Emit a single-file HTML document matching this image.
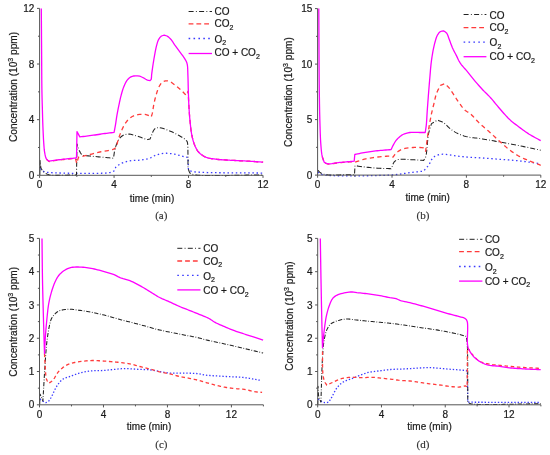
<!DOCTYPE html>
<html><head><meta charset="utf-8"><title>Concentration charts</title>
<style>
html,body{margin:0;padding:0;background:#fff;}
body{width:550px;height:455px;overflow:hidden;}
svg{display:block;font-family:"Liberation Sans",sans-serif;font-size:10px;fill:#1a1a1a;will-change:transform;}
svg text{fill:#1a1a1a;stroke:#1a1a1a;stroke-width:0.2px;}
svg text.pl{font-family:"Liberation Serif",serif;font-size:11px;fill:#333;stroke:#333;stroke-width:0.15px;}
</style></head><body>
<svg width="550" height="455" viewBox="0 0 550 455">
<rect width="550" height="455" fill="#fff"/>
<g><path d="M39.8 168.5 L42 170.5 L43.65 171.36 L45.5 172 L46.76 172.29 L48.09 172.46 L50 172.6 L50.71 172.64 L51.54 172.69 L52.49 172.73 L53.55 172.78 L54.71 172.83 L55.97 172.88 L57.32 172.92 L58.76 172.97 L60.27 173.02 L61.85 173.06 L63.5 173.11 L65.21 173.15 L66.97 173.19 L68.77 173.23 L70.61 173.26 L72.48 173.3 L74.38 173.33 L76.3 173.36 L78.23 173.38 L80.17 173.4 L82.1 173.42 L84.03 173.43 L85.94 173.44 L87.83 173.44 L89.7 173.44 L91.53 173.43 L93.32 173.42 L95.07 173.4 L96.76 173.37 L98.39 173.34 L99.96 173.3 L101.45 173.26 L102.87 173.2 L104.2 173.14 L105.43 173.07 L106.57 173 L107.6 172.91 L108.52 172.82 L109.32 172.71 L110 172.6 L112.32 171.84 L114 171 L114.8 169 L115.9 167.1 L117.09 166 L118.57 164.97 L120.21 164.03 L121.9 163.2 L123.37 162.57 L124.9 162.02 L126.49 161.54 L128.13 161.14 L129.8 160.8 L131.38 160.59 L133.01 160.49 L134.67 160.45 L136.36 160.42 L138.04 160.36 L139.7 160.2 L141.39 159.97 L143.11 159.7 L144.83 159.4 L146.52 159.05 L148.12 158.65 L149.6 158.2 L151.18 157.53 L152.6 156.76 L153.99 155.98 L155.5 155.3 L156.99 154.78 L158.55 154.29 L160.16 153.86 L161.79 153.52 L163.4 153.3 L164.97 153.21 L166.56 153.23 L168.14 153.34 L169.72 153.51 L171.3 153.7 L172.89 153.94 L174.49 154.23 L176.09 154.57 L177.66 154.93 L179.2 155.3 L181.06 155.79 L182.94 156.34 L184.68 156.84 L186.1 157.2 L188.1 157.5 L188.4 170.1 L189.85 170.82 L191.9 171.5 L192.49 171.61 L193.15 171.71 L193.9 171.81 L194.72 171.9 L195.61 171.98 L196.57 172.06 L197.59 172.13 L198.68 172.2 L199.84 172.26 L201.05 172.32 L202.31 172.38 L203.63 172.42 L205.01 172.47 L206.42 172.51 L207.89 172.55 L209.4 172.58 L210.95 172.62 L212.53 172.64 L214.15 172.67 L215.81 172.69 L217.49 172.71 L219.2 172.73 L220.93 172.75 L222.69 172.76 L224.47 172.78 L226.26 172.79 L228.07 172.8 L229.89 172.81 L231.71 172.82 L233.55 172.83 L235.38 172.83 L237.22 172.84 L239.06 172.85 L240.89 172.86 L242.71 172.87 L244.53 172.88 L246.33 172.89 L248.12 172.9 L249.89 172.92 L251.64 172.93 L253.36 172.95 L255.07 172.97 L256.74 172.99 L258.38 173.01 L259.99 173.04 L261.56 173.07 L263.1 173.1" fill="none" stroke="#3a3aff" stroke-width="1.3" stroke-dasharray="1.5 2.65" stroke-linejoin="round"/><path d="M39.8 175 L40.1 160.5 L40.28 162.16 L40.41 163.88 L40.56 165.57 L40.8 167.14 L41.2 168.5 L42.3 170.44 L43.8 172 L45.18 173.07 L46.83 173.97 L49 174.7 L49.98 174.9 L51.08 175.07 L52.3 175.19 L53.62 175.28 L55.03 175.33 L56.52 175.36 L58.08 175.37 L59.7 175.35 L61.36 175.32 L63.06 175.28 L64.78 175.23 L66.51 175.18 L68.24 175.13 L69.96 175.08 L71.66 175.04 L73.32 175.01 L74.94 174.99 L76.5 175 L77 144 L77.47 145.51 L77.93 147.04 L78.42 148.54 L79 150 L79.68 151.37 L80.44 152.69 L81.23 153.99 L82 155.3 L83.51 155.44 L85.03 155.59 L86.56 155.73 L88.1 155.88 L89.63 156.03 L91.16 156.17 L92.68 156.32 L94.19 156.46 L95.68 156.6 L97.15 156.74 L98.59 156.87 L100 157 L101.58 157.14 L103.13 157.28 L104.64 157.42 L106.13 157.55 L107.61 157.68 L109.07 157.81 L110.54 157.94 L112.01 158.07 L113.5 158.2 L113.76 156.44 L114.01 154.66 L114.26 152.88 L114.55 151.15 L114.9 149.5 L115.36 147.75 L115.86 146.08 L116.44 144.46 L117.1 142.9 L117.8 141.41 L118.57 139.94 L119.43 138.58 L120.4 137.4 L121.75 136.23 L123.25 135.28 L124.8 134.6 L126.93 134.13 L129.2 134.1 L130.76 134.31 L132.43 134.71 L134.13 135.2 L135.8 135.7 L137.47 136.22 L139.14 136.79 L140.79 137.36 L142.4 137.9 L144.36 138.61 L146.28 139.29 L147.9 139.6 L150 139 L151.2 136.3 L151.86 134.53 L152.59 132.53 L153.4 130.8 L154.38 129.29 L155.5 128.2 L158 127.6 L159.59 127.71 L161.42 128.07 L163.4 128.6 L164.66 128.99 L166.01 129.44 L167.42 129.96 L168.87 130.53 L170.35 131.15 L171.83 131.81 L173.3 132.5 L174.65 133.17 L176.1 133.92 L177.61 134.73 L179.12 135.57 L180.6 136.42 L181.99 137.25 L183.25 138.04 L184.34 138.77 L185.2 139.4 L187.1 141.4 L187.4 142.36 L187.62 143.57 L187.76 144.99 L187.85 146.57 L187.89 148.25 L187.91 149.98 L187.93 151.72 L187.95 153.41 L188 155 L188.04 156.59 L188.04 158.26 L188.02 159.97 L187.99 161.69 L187.97 163.36 L187.98 164.97 L188.02 166.47 L188.12 167.83 L188.3 169 L189.04 171.17 L189.9 173 L191.52 173.89 L193.8 174.7 L194.41 174.82 L195.1 174.92 L195.87 175.02 L196.71 175.11 L197.62 175.19 L198.6 175.26 L199.64 175.32 L200.75 175.38 L201.92 175.42 L203.14 175.46 L204.42 175.5 L205.75 175.53 L207.12 175.55 L208.55 175.57 L210.02 175.58 L211.53 175.58 L213.08 175.58 L214.67 175.58 L216.29 175.57 L217.94 175.56 L219.61 175.55 L221.32 175.53 L223.04 175.51 L224.79 175.48 L226.56 175.46 L228.33 175.43 L230.13 175.4 L231.93 175.37 L233.74 175.34 L235.55 175.31 L237.36 175.28 L239.18 175.25 L240.99 175.22 L242.79 175.19 L244.59 175.16 L246.37 175.13 L248.14 175.1 L249.89 175.08 L251.63 175.06 L253.34 175.04 L255.03 175.02 L256.69 175.01 L258.32 175 L259.91 175 L261.48 175 L263 175" fill="none" stroke="#222" stroke-width="1.05" stroke-dasharray="5 2 0.8 2" stroke-linejoin="round"/><path d="M46.4 159.2 L49.1 161.5 L50.82 161.22 L52.51 160.94 L54.25 160.67 L56.1 160.4 L57.5 160.22 L58.97 160.04 L60.5 159.86 L62.05 159.69 L63.6 159.52 L65.13 159.36 L66.6 159.2 L68.41 159.01 L70.18 158.83 L71.92 158.65 L73.65 158.48 L75.4 158.3 L76.7 163.3 L78.5 157.2 L80.15 156.81 L81.81 156.43 L83.47 156.04 L85.13 155.66 L86.77 155.27 L88.4 154.88 L90 154.5 L91.69 154.08 L93.33 153.66 L94.95 153.24 L96.58 152.83 L98.25 152.41 L100 152 L101.47 151.69 L103.08 151.4 L104.76 151.12 L106.47 150.84 L108.15 150.55 L109.75 150.25 L111.21 149.93 L112.48 149.58 L113.5 149.2 L114.96 148.41 L116 147.3 L116.57 146.13 L117 144.65 L117.37 142.98 L117.74 141.26 L118.2 139.6 L118.69 138.14 L119.21 136.65 L119.76 135.14 L120.33 133.64 L120.91 132.19 L121.5 130.8 L122.27 129.05 L123.05 127.37 L123.88 125.75 L124.8 124.2 L125.79 122.71 L126.84 121.26 L127.97 119.91 L129.2 118.7 L130.46 117.69 L131.81 116.79 L133.23 116.03 L134.7 115.4 L136.29 114.92 L137.97 114.6 L139.67 114.4 L141.3 114.3 L143.2 114.29 L145.05 114.44 L146.8 114.8 L148.32 115.41 L149.76 116.2 L151.2 117 L151.75 115.32 L152.3 113.4 L152.58 112.03 L152.85 110.45 L153.12 108.72 L153.39 106.94 L153.68 105.17 L154 103.5 L154.33 101.99 L154.67 100.5 L155.02 99.02 L155.4 97.56 L155.79 96.12 L156.2 94.7 L156.68 93.08 L157.18 91.46 L157.71 89.88 L158.27 88.37 L158.9 87 L159.83 85.28 L160.86 83.73 L162 82.5 L163.63 81.46 L165.4 80.9 L167.3 80.84 L169.3 81.3 L170.75 82 L172.27 83.01 L173.8 84.15 L175.3 85.3 L176.51 86.22 L177.72 87.19 L178.91 88.18 L180.08 89.19 L181.2 90.2 L182.48 91.43 L183.7 92.68 L184.89 93.94 L186.1 95.2 L188.1 91.2 L188.19 92.82 L188.27 94.45 L188.36 96.08 L188.44 97.71 L188.53 99.34 L188.62 100.96 L188.71 102.58 L188.8 104.19 L188.9 105.8 L189 107.36 L189.09 108.9 L189.19 110.43 L189.28 111.96 L189.39 113.48 L189.5 115.02 L189.62 116.56 L189.75 118.12 L189.9 119.7 L190.05 121.26 L190.21 122.86 L190.37 124.49 L190.55 126.14 L190.73 127.78 L190.93 129.41 L191.14 131.01 L191.37 132.57 L191.62 134.07 L191.9 135.5 L192.3 137.32 L192.72 139.07 L193.17 140.74 L193.66 142.35 L194.2 143.91 L194.8 145.4 L195.47 146.92 L196.17 148.38 L196.94 149.77 L197.81 151.08 L198.8 152.3 L199.97 153.47 L201.26 154.56 L202.66 155.56 L204.14 156.44 L205.7 157.2 L207.19 157.75 L208.75 158.17 L210.39 158.48 L212.08 158.74 L213.82 158.97 L215.6 159.2 L217.01 159.38 L218.46 159.52 L219.93 159.65 L221.43 159.75 L222.96 159.85 L224.53 159.93 L226.12 160.02 L227.74 160.1 L229.4 160.2 L230.82 160.28 L232.28 160.36 L233.8 160.44 L235.34 160.52 L236.91 160.59 L238.5 160.66 L240.09 160.74 L241.68 160.81 L243.25 160.88 L244.8 160.96 L246.31 161.04 L247.78 161.12 L249.2 161.2 L250.85 161.3 L252.45 161.41 L254.02 161.52 L255.55 161.63 L257.06 161.75 L258.56 161.86 L260.06 161.97 L261.57 162.09 L263.1 162.2" fill="none" stroke="#ff3b3b" stroke-width="1.3" stroke-dasharray="4.3 3.3" stroke-linejoin="round"/><path d="M41.3 8.4 L41.31 9.94 L41.32 11.48 L41.33 13.03 L41.34 14.57 L41.36 16.12 L41.37 17.66 L41.38 19.21 L41.39 20.75 L41.4 22.3 L41.41 23.84 L41.42 25.39 L41.43 26.93 L41.44 28.48 L41.46 30.02 L41.47 31.57 L41.48 33.11 L41.49 34.65 L41.5 36.19 L41.51 37.73 L41.52 39.27 L41.53 40.81 L41.54 42.35 L41.56 43.88 L41.57 45.41 L41.58 46.94 L41.59 48.47 L41.6 50 L41.61 51.56 L41.62 53.14 L41.63 54.73 L41.64 56.33 L41.65 57.95 L41.66 59.57 L41.67 61.19 L41.68 62.82 L41.68 64.44 L41.69 66.07 L41.7 67.69 L41.71 69.3 L41.72 70.91 L41.73 72.5 L41.74 74.08 L41.75 75.65 L41.76 77.2 L41.77 78.73 L41.78 80.24 L41.8 81.72 L41.81 83.18 L41.83 84.61 L41.84 86.01 L41.86 87.38 L41.88 88.71 L41.9 90 L41.93 91.77 L41.96 93.47 L42 95.12 L42.03 96.73 L42.07 98.28 L42.11 99.8 L42.15 101.3 L42.19 102.76 L42.23 104.22 L42.28 105.66 L42.32 107.1 L42.36 108.55 L42.4 110 L42.45 111.7 L42.49 113.38 L42.54 115.02 L42.58 116.65 L42.62 118.27 L42.67 119.88 L42.72 121.49 L42.78 123.11 L42.84 124.75 L42.9 126.4 L42.97 127.99 L43.03 129.63 L43.11 131.29 L43.18 132.97 L43.26 134.65 L43.34 136.32 L43.42 137.95 L43.51 139.54 L43.61 141.07 L43.7 142.53 L43.8 143.9 L43.95 145.88 L44.09 147.72 L44.24 149.44 L44.44 151.09 L44.7 152.7 L45.01 154.42 L45.36 156.1 L45.8 157.63 L46.4 158.9 L47.67 160.17 L49.1 161.2 L50.82 160.92 L52.51 160.64 L54.25 160.37 L56.1 160.1 L57.5 159.92 L58.97 159.74 L60.5 159.56 L62.05 159.39 L63.6 159.22 L65.13 159.06 L66.6 158.9 L68.54 158.7 L70.58 158.5 L72.52 158.32 L74.19 158.15 L75.4 158 L76.5 157.8 L77 131.6 L77.8 133 L78.75 134.83 L79.8 136.9 L81.47 136.71 L83.14 136.52 L85 136.3 L86.48 136.12 L88.09 135.91 L89.8 135.7 L91.55 135.47 L93.3 135.23 L95 135 L96.67 134.76 L98.35 134.5 L100.03 134.24 L101.7 133.98 L103.36 133.73 L105 133.5 L106.54 133.3 L108.06 133.11 L109.58 132.93 L111.08 132.75 L112.59 132.58 L114.1 132.4 L114.42 130.66 L114.75 128.95 L115.07 127.19 L115.4 125.3 L115.64 123.84 L115.87 122.29 L116.11 120.68 L116.35 119.04 L116.59 117.41 L116.84 115.82 L117.1 114.3 L117.42 112.52 L117.75 110.81 L118.09 109.13 L118.44 107.44 L118.8 105.7 L119.14 104.08 L119.48 102.42 L119.84 100.75 L120.2 99.07 L120.59 97.42 L121 95.8 L121.4 94.28 L121.82 92.77 L122.25 91.27 L122.7 89.8 L123.18 88.37 L123.7 87 L124.43 85.2 L125.21 83.46 L126.05 81.83 L127 80.4 L128.19 79 L129.5 77.82 L130.9 76.9 L132.31 76.32 L133.8 75.98 L135.3 75.8 L137.51 75.82 L139.7 76.2 L141.21 76.74 L142.69 77.46 L144.1 78.2 L145.79 79.23 L147.4 80.1 L150.1 80.6 L151.2 79.3 L151.48 77.45 L151.6 75 L151.76 73.64 L151.96 72.09 L152.19 70.41 L152.44 68.66 L152.69 66.88 L152.95 65.14 L153.2 63.5 L153.47 61.79 L153.75 60.1 L154.03 58.42 L154.32 56.78 L154.61 55.17 L154.9 53.6 L155.2 51.99 L155.5 50.41 L155.8 48.88 L156.13 47.38 L156.5 45.9 L156.97 44.14 L157.46 42.39 L158.03 40.75 L158.7 39.3 L160 37.39 L161.5 36 L164.2 35.2 L167 36 L168.66 37.13 L170.3 38.7 L171.18 39.74 L172.06 40.94 L172.94 42.23 L173.82 43.54 L174.7 44.8 L175.8 46.3 L176.9 47.8 L178 49.3 L179.1 50.8 L180 52.03 L180.92 53.28 L181.83 54.52 L182.7 55.73 L183.5 56.9 L184.52 58.43 L185.44 59.89 L186.2 61.3 L186.85 62.84 L187.3 64.6 L187.5 65.97 L187.63 67.56 L187.72 69.31 L187.78 71.17 L187.83 73.09 L187.9 75 L187.95 76.39 L188 77.82 L188.04 79.29 L188.08 80.78 L188.11 82.3 L188.14 83.84 L188.18 85.39 L188.21 86.93 L188.25 88.47 L188.3 90 L188.35 91.57 L188.4 93.15 L188.45 94.74 L188.5 96.34 L188.56 97.94 L188.62 99.53 L188.68 101.12 L188.75 102.7 L188.82 104.26 L188.9 105.8 L188.99 107.38 L189.08 108.93 L189.17 110.47 L189.27 111.99 L189.37 113.51 L189.49 115.04 L189.61 116.57 L189.75 118.12 L189.9 119.7 L190.05 121.26 L190.21 122.86 L190.37 124.49 L190.55 126.14 L190.73 127.78 L190.93 129.41 L191.14 131.01 L191.37 132.57 L191.62 134.07 L191.9 135.5 L192.3 137.32 L192.72 139.07 L193.17 140.74 L193.66 142.35 L194.2 143.91 L194.8 145.4 L195.47 146.92 L196.17 148.38 L196.94 149.77 L197.81 151.08 L198.8 152.3 L199.97 153.47 L201.26 154.56 L202.66 155.56 L204.14 156.44 L205.7 157.2 L207.19 157.75 L208.75 158.17 L210.39 158.48 L212.08 158.74 L213.82 158.97 L215.6 159.2 L217.01 159.38 L218.46 159.52 L219.93 159.65 L221.43 159.75 L222.96 159.85 L224.53 159.93 L226.12 160.02 L227.74 160.1 L229.4 160.2 L230.82 160.28 L232.28 160.36 L233.8 160.44 L235.34 160.52 L236.91 160.59 L238.5 160.66 L240.09 160.74 L241.68 160.81 L243.25 160.88 L244.8 160.96 L246.31 161.04 L247.78 161.12 L249.2 161.2 L250.85 161.3 L252.45 161.41 L254.02 161.52 L255.55 161.63 L257.06 161.75 L258.56 161.86 L260.06 161.97 L261.57 162.09 L263.1 162.2" fill="none" stroke="#ff00ff" stroke-width="1.3" stroke-linejoin="round"/><path d="M39.6 8.4 V175.3 H263" fill="none" stroke="#555" stroke-width="1"/><path d="M39.6 175.3 v2.6 M114.07 175.3 v2.6 M188.53 175.3 v2.6 M263 175.3 v2.6 M76.83 175.3 v1.6 M151.3 175.3 v1.6 M225.77 175.3 v1.6 M39.6 175.3 h-2.6 M39.6 119.67 h-2.6 M39.6 64.03 h-2.6 M39.6 8.4 h-2.6 M39.6 147.48 h-1.6 M39.6 91.85 h-1.6 M39.6 36.22 h-1.6" fill="none" stroke="#555" stroke-width="1"/><text x="39.6" y="188" text-anchor="middle">0</text><text x="114.07" y="188" text-anchor="middle">4</text><text x="188.53" y="188" text-anchor="middle">8</text><text x="263" y="188" text-anchor="middle">12</text><text x="34.4" y="178.9" text-anchor="end">0</text><text x="34.4" y="123.27" text-anchor="end">4</text><text x="34.4" y="67.63" text-anchor="end">8</text><text x="34.4" y="12" text-anchor="end">12</text><text transform="translate(16.7 142) rotate(-90)" x="0" y="0" textLength="110.1" lengthAdjust="spacingAndGlyphs">Concentration (10<tspan font-size="7" dy="-4.2">3</tspan><tspan dy="4.2"> ppm)</tspan></text><text x="129.8" y="201.5">time (min)</text><text x="161.3" y="218.8" text-anchor="middle" class="pl">(a)</text><path d="M188.6 11.5 H212" fill="none" stroke="#222" stroke-width="1" stroke-dasharray="5 2.3 0.9 2.3"/><text x="214.5" y="15">CO</text><path d="M188.6 23.9 H212" fill="none" stroke="#ff3b3b" stroke-width="1.3" stroke-dasharray="4.8 3"/><text x="214.5" y="27.3">CO<tspan font-size="7" dy="2.6">2</tspan></text><path d="M188.6 38.5 H212" fill="none" stroke="#3a3aff" stroke-width="1.3" stroke-dasharray="1.6 3.3"/><text x="214.5" y="42.5">O<tspan font-size="7" dy="2.6">2</tspan></text><path d="M188.6 53.5 H212" fill="none" stroke="#ff00ff" stroke-width="1.3"/><text x="214.5" y="56.4">CO + CO<tspan font-size="7" dy="2.6">2</tspan></text></g>
<g><path d="M317.8 172 L318.98 172.87 L320.16 173.74 L322 174.5 L322.65 174.66 L323.4 174.81 L324.26 174.95 L325.22 175.07 L326.28 175.19 L327.42 175.3 L328.65 175.4 L329.96 175.49 L331.35 175.57 L332.81 175.64 L334.33 175.7 L335.91 175.76 L337.55 175.81 L339.24 175.85 L340.98 175.88 L342.76 175.91 L344.58 175.93 L346.43 175.94 L348.31 175.95 L350.21 175.96 L352.13 175.95 L354.06 175.94 L356 175.93 L357.95 175.92 L359.89 175.89 L361.83 175.87 L363.76 175.84 L365.67 175.81 L367.56 175.77 L369.43 175.74 L371.26 175.7 L373.07 175.65 L374.83 175.61 L376.55 175.56 L378.22 175.52 L379.84 175.47 L381.39 175.42 L382.89 175.37 L384.32 175.32 L385.67 175.27 L386.95 175.23 L388.14 175.18 L389.25 175.13 L390.26 175.09 L391.18 175.04 L392 175 L394.07 174.86 L395.69 174.69 L397.06 174.51 L398.39 174.31 L399.9 174.1 L401.47 173.89 L403.06 173.66 L404.68 173.42 L406.34 173.18 L408.04 172.94 L409.8 172.7 L411.23 172.52 L412.71 172.34 L414.23 172.16 L415.78 171.99 L417.34 171.81 L418.91 171.63 L420.49 171.45 L422.05 171.28 L423.6 171.1 L424.61 169.94 L425.63 168.8 L426.64 167.65 L427.63 166.46 L428.6 165.2 L429.41 163.9 L430.15 162.46 L430.87 160.98 L431.63 159.55 L432.49 158.26 L433.5 157.2 L434.87 156.27 L436.42 155.54 L438.07 154.98 L439.75 154.58 L441.4 154.3 L442.95 154.2 L444.5 154.27 L446.07 154.45 L447.66 154.69 L449.3 154.9 L450.89 155.09 L452.52 155.33 L454.18 155.58 L455.86 155.84 L457.54 156.09 L459.2 156.3 L460.84 156.48 L462.48 156.65 L464.12 156.8 L465.77 156.94 L467.43 157.07 L469.1 157.2 L470.58 157.3 L472.03 157.38 L473.48 157.46 L474.96 157.53 L476.49 157.61 L478.1 157.69 L479.8 157.8 L481.13 157.89 L482.51 157.99 L483.96 158.09 L485.45 158.2 L486.98 158.31 L488.54 158.43 L490.12 158.56 L491.71 158.68 L493.31 158.8 L494.91 158.93 L496.5 159.06 L498.06 159.18 L499.6 159.3 L501.12 159.42 L502.63 159.53 L504.13 159.64 L505.64 159.75 L507.15 159.86 L508.65 159.97 L510.16 160.08 L511.67 160.2 L513.18 160.33 L514.7 160.46 L516.23 160.59 L517.76 160.74 L519.3 160.9 L520.8 161.06 L522.31 161.24 L523.83 161.42 L525.35 161.62 L526.88 161.81 L528.41 162.02 L529.95 162.23 L531.48 162.44 L533.02 162.65 L534.56 162.87 L536.1 163.08 L537.64 163.29 L539.17 163.5 L540.7 163.7" fill="none" stroke="#3a3aff" stroke-width="1.3" stroke-dasharray="1.5 2.65" stroke-linejoin="round"/><path d="M317.8 170.5 L318.5 170.8 L320 172.5 L322.5 173.8 L323.99 174.32 L326 174.7 L326.85 174.79 L327.84 174.86 L328.96 174.91 L330.19 174.94 L331.53 174.97 L332.96 174.98 L334.48 174.97 L336.06 174.96 L337.69 174.94 L339.37 174.92 L341.09 174.89 L342.82 174.86 L344.56 174.83 L346.3 174.8 L348.02 174.77 L349.71 174.74 L351.36 174.72 L352.96 174.7 L354.5 174.7 L355 165.6 L356.8 165.88 L358.55 166.15 L360.39 166.43 L362.4 166.7 L363.75 166.87 L365.19 167.03 L366.69 167.21 L368.25 167.37 L369.85 167.54 L371.47 167.7 L373.1 167.85 L374.71 167.98 L376.3 168.1 L377.92 168.2 L379.56 168.29 L381.2 168.36 L382.84 168.43 L384.5 168.48 L386.15 168.53 L387.8 168.58 L389.45 168.64 L391.1 168.7 L392 167 L392.54 165.51 L393.15 163.74 L394 162.2 L395.05 161.12 L396.32 160.25 L397.9 159.6 L399.23 159.33 L400.77 159.21 L402.47 159.21 L404.27 159.28 L406.13 159.4 L407.99 159.52 L409.8 159.6 L411.29 159.65 L412.8 159.72 L414.33 159.81 L415.86 159.9 L417.41 160 L418.96 160.1 L420.51 160.21 L422.06 160.31 L423.6 160.4 L424.63 159.02 L425.6 157.2 L425.88 156.25 L426.13 155.08 L426.36 153.73 L426.56 152.21 L426.75 150.57 L426.93 148.83 L427.09 147.02 L427.26 145.17 L427.42 143.3 L427.58 141.46 L427.75 139.66 L427.94 137.93 L428.14 136.31 L428.36 134.82 L428.6 133.5 L429.04 131.59 L429.51 129.87 L430 128.27 L430.51 126.73 L431.01 125.2 L431.5 123.6 L437.5 120.1 L438.97 120.66 L440.44 121.19 L441.91 121.79 L443.4 122.6 L444.5 123.39 L445.61 124.35 L446.73 125.41 L447.85 126.53 L448.99 127.63 L450.14 128.67 L451.3 129.6 L452.57 130.49 L453.84 131.33 L455.13 132.12 L456.45 132.86 L457.8 133.55 L459.2 134.2 L460.75 134.83 L462.36 135.41 L464.02 135.93 L465.7 136.4 L467.4 136.82 L469.1 137.2 L470.57 137.47 L472.02 137.67 L473.48 137.83 L474.96 137.96 L476.49 138.1 L478.1 138.27 L479.8 138.5 L481.13 138.7 L482.52 138.93 L483.96 139.17 L485.45 139.42 L486.98 139.69 L488.54 139.97 L490.12 140.26 L491.72 140.55 L493.32 140.84 L494.91 141.14 L496.5 141.43 L498.06 141.72 L499.6 142 L501.12 142.28 L502.63 142.55 L504.14 142.83 L505.64 143.1 L507.15 143.38 L508.65 143.66 L510.16 143.94 L511.67 144.22 L513.18 144.51 L514.7 144.8 L516.23 145.1 L517.76 145.4 L519.3 145.7 L520.8 146 L522.31 146.31 L523.83 146.62 L525.35 146.94 L526.88 147.26 L528.41 147.58 L529.95 147.91 L531.48 148.24 L533.02 148.57 L534.56 148.9 L536.1 149.22 L537.64 149.55 L539.17 149.88 L540.7 150.2" fill="none" stroke="#222" stroke-width="1.05" stroke-dasharray="5 2 0.8 2" stroke-linejoin="round"/><path d="M322.2 156.5 L324.3 162.6 L325.92 163.4 L327.8 164 L328.99 164.06 L330.34 163.98 L331.82 163.79 L333.4 163.54 L335.04 163.26 L336.72 163 L338.4 162.8 L339.85 162.66 L341.36 162.53 L342.91 162.4 L344.49 162.27 L346.1 162.14 L347.73 162.01 L349.36 161.88 L350.99 161.76 L352.61 161.63 L354.2 161.5 L355 162.2 L356.55 161.69 L358.09 161.16 L359.62 160.63 L361.17 160.12 L362.76 159.63 L364.4 159.2 L365.81 158.88 L367.24 158.58 L368.7 158.3 L370.19 158.04 L371.7 157.81 L373.22 157.59 L374.76 157.39 L376.3 157.2 L377.84 157.02 L379.49 156.84 L381.2 156.66 L382.93 156.5 L384.62 156.37 L386.23 156.27 L387.71 156.22 L389.02 156.22 L390.1 156.3 L391.69 156.7 L393 157.2 L393.9 155.88 L394.8 154.56 L395.9 153.3 L397.18 152.18 L398.64 151.09 L400.24 150.1 L401.9 149.3 L403.38 148.8 L404.94 148.45 L406.56 148.19 L408.19 147.98 L409.8 147.8 L411.39 147.64 L413.01 147.52 L414.62 147.44 L416.19 147.4 L417.7 147.4 L419.73 147.48 L421.67 147.64 L423.6 147.8 L425.6 151.3 L425.81 149.74 L426.03 148.17 L426.24 146.59 L426.45 145 L426.65 143.41 L426.86 141.82 L427.07 140.24 L427.29 138.66 L427.5 137.1 L427.71 135.55 L427.93 134.02 L428.15 132.52 L428.37 131.04 L428.6 129.6 L428.88 127.89 L429.16 126.18 L429.45 124.49 L429.74 122.83 L430.04 121.19 L430.33 119.59 L430.63 118.04 L430.92 116.53 L431.21 115.08 L431.5 113.7 L431.92 111.81 L432.32 110.09 L432.73 108.45 L433.15 106.78 L433.6 105 L433.93 103.59 L434.27 102.11 L434.61 100.59 L434.96 99.04 L435.32 97.5 L435.72 96 L436.14 94.56 L436.6 93.2 L437.3 91.49 L438.07 89.9 L438.88 88.37 L439.7 86.85 L440.5 85.3 L444.5 83.7 L445.84 84.8 L447.18 85.9 L448.5 87.2 L449.49 88.4 L450.46 89.75 L451.42 91.2 L452.4 92.7 L453.4 94.2 L454.22 95.42 L455.04 96.69 L455.87 97.99 L456.72 99.3 L457.57 100.6 L458.43 101.88 L459.3 103.1 L460.27 104.44 L461.27 105.79 L462.27 107.11 L463.28 108.37 L464.29 109.51 L465.3 110.5 L466.79 111.54 L468.28 112.33 L469.9 113.4 L470.86 114.23 L471.89 115.22 L472.96 116.31 L474.07 117.49 L475.21 118.72 L476.36 119.97 L477.52 121.2 L478.67 122.39 L479.8 123.5 L481.02 124.63 L482.25 125.74 L483.49 126.82 L484.74 127.9 L485.98 128.96 L487.22 130.03 L488.46 131.1 L489.7 132.2 L490.95 133.33 L492.19 134.47 L493.44 135.63 L494.68 136.79 L495.92 137.94 L497.16 139.08 L498.38 140.2 L499.6 141.3 L500.88 142.45 L502.13 143.58 L503.37 144.69 L504.61 145.79 L505.87 146.87 L507.16 147.94 L508.5 149 L509.75 149.96 L510.99 150.92 L512.24 151.86 L513.53 152.78 L514.85 153.7 L516.25 154.61 L517.72 155.51 L519.3 156.4 L520.49 157.02 L521.75 157.64 L523.07 158.25 L524.43 158.85 L525.84 159.45 L527.28 160.04 L528.75 160.63 L530.25 161.21 L531.75 161.79 L533.27 162.37 L534.78 162.95 L536.29 163.54 L537.78 164.12 L539.26 164.71 L540.7 165.3" fill="none" stroke="#ff3b3b" stroke-width="1.3" stroke-dasharray="4.3 3.3" stroke-linejoin="round"/><path d="M318.8 8.6 L318.81 10.11 L318.82 11.64 L318.83 13.18 L318.84 14.72 L318.84 16.28 L318.85 17.85 L318.86 19.42 L318.87 21.01 L318.88 22.6 L318.88 24.2 L318.89 25.8 L318.9 27.41 L318.91 29.02 L318.92 30.63 L318.92 32.25 L318.93 33.87 L318.94 35.49 L318.95 37.12 L318.95 38.74 L318.96 40.36 L318.97 41.98 L318.98 43.6 L318.98 45.21 L318.99 46.83 L319 48.43 L319.01 50.04 L319.01 51.63 L319.02 53.22 L319.03 54.81 L319.04 56.38 L319.05 57.95 L319.06 59.51 L319.06 61.06 L319.07 62.59 L319.08 64.12 L319.09 65.63 L319.1 67.13 L319.11 68.62 L319.12 70.09 L319.13 71.55 L319.14 72.99 L319.15 74.42 L319.16 75.83 L319.17 77.22 L319.18 78.59 L319.2 79.95 L319.21 81.28 L319.22 82.59 L319.23 83.89 L319.25 85.16 L319.26 86.4 L319.27 87.63 L319.29 88.83 L319.3 90 L319.32 91.85 L319.35 93.64 L319.37 95.39 L319.39 97.1 L319.42 98.76 L319.44 100.39 L319.46 101.98 L319.49 103.53 L319.51 105.06 L319.54 106.56 L319.57 108.03 L319.59 109.48 L319.62 110.91 L319.65 112.33 L319.68 113.73 L319.72 115.12 L319.75 116.5 L319.78 117.87 L319.82 119.25 L319.86 120.62 L319.9 122 L319.95 123.71 L320 125.4 L320.05 127.08 L320.1 128.74 L320.15 130.39 L320.2 132.01 L320.26 133.6 L320.32 135.17 L320.38 136.71 L320.45 138.22 L320.53 139.7 L320.61 141.14 L320.7 142.54 L320.8 143.9 L320.93 145.64 L321.07 147.33 L321.2 148.97 L321.35 150.55 L321.52 152.06 L321.71 153.52 L321.94 154.9 L322.2 156.2 L322.66 157.91 L323.19 159.44 L323.75 160.9 L324.3 162.4 L325.92 163.2 L327.8 163.8 L328.99 163.86 L330.34 163.78 L331.82 163.6 L333.4 163.35 L335.04 163.07 L336.72 162.81 L338.4 162.6 L339.85 162.46 L341.36 162.32 L342.91 162.17 L344.49 162.03 L346.1 161.9 L347.73 161.76 L349.36 161.62 L350.99 161.48 L352.61 161.34 L354.2 161.2 L354.8 154.5 L356.3 154.18 L357.79 153.85 L359.29 153.53 L360.81 153.21 L362.4 152.9 L363.97 152.61 L365.6 152.33 L367.26 152.05 L368.95 151.78 L370.63 151.53 L372.3 151.3 L373.95 151.1 L375.62 150.91 L377.28 150.75 L378.94 150.59 L380.58 150.44 L382.2 150.3 L384.01 150.14 L385.79 150 L387.56 149.87 L389.33 149.74 L391.1 149.6 L391.74 148.21 L392.39 146.82 L393.1 145.4 L394 143.72 L394.99 142 L396.1 140.4 L397.34 138.97 L398.68 137.65 L400 136.5 L401.41 135.41 L403 134.5 L404.45 133.89 L406.12 133.33 L407.93 132.85 L409.8 132.5 L411.37 132.35 L413.06 132.31 L414.8 132.34 L416.54 132.41 L418.19 132.47 L419.7 132.5 L421.65 132.5 L423.43 132.5 L425.2 132.5 L425.43 131.04 L425.66 129.63 L425.88 128.19 L426.1 126.67 L426.3 125 L426.42 123.73 L426.53 122.42 L426.63 121.05 L426.72 119.63 L426.81 118.16 L426.89 116.63 L426.98 115.05 L427.07 113.42 L427.18 111.74 L427.3 110 L427.39 108.7 L427.49 107.34 L427.6 105.92 L427.71 104.45 L427.82 102.93 L427.94 101.37 L428.06 99.79 L428.18 98.18 L428.3 96.55 L428.43 94.9 L428.56 93.26 L428.69 91.61 L428.82 89.97 L428.95 88.35 L429.08 86.75 L429.2 85.18 L429.33 83.64 L429.46 82.14 L429.58 80.69 L429.7 79.3 L429.84 77.64 L429.98 76.01 L430.11 74.41 L430.24 72.84 L430.36 71.3 L430.49 69.79 L430.62 68.29 L430.76 66.82 L430.91 65.35 L431.06 63.9 L431.23 62.46 L431.41 61.03 L431.6 59.6 L431.85 57.91 L432.11 56.23 L432.38 54.55 L432.66 52.88 L432.96 51.24 L433.26 49.63 L433.58 48.06 L433.91 46.54 L434.25 45.09 L434.6 43.7 L435.05 42 L435.5 40.35 L435.97 38.77 L436.47 37.31 L437.01 35.97 L437.6 34.8 L438.96 32.83 L440.5 31.5 L441.97 31.08 L443.5 30.9 L445.05 31.76 L446.5 32.9 L447.34 34.28 L448.06 36.02 L448.72 37.93 L449.4 39.8 L449.99 41.35 L450.56 42.93 L451.14 44.52 L451.74 46.12 L452.4 47.7 L453.14 49.29 L453.93 50.88 L454.76 52.46 L455.59 54.03 L456.4 55.6 L457.15 57.13 L457.86 58.66 L458.59 60.19 L459.38 61.7 L460.3 63.2 L461.14 64.38 L462.06 65.54 L463.05 66.69 L464.07 67.84 L465.12 69.01 L466.17 70.19 L467.2 71.4 L468.17 72.59 L469.16 73.82 L470.16 75.07 L471.16 76.33 L472.17 77.6 L473.18 78.85 L474.19 80.09 L475.2 81.3 L476.32 82.62 L477.45 83.93 L478.59 85.23 L479.73 86.51 L480.86 87.77 L481.99 89 L483.1 90.2 L484.25 91.39 L485.39 92.5 L486.52 93.59 L487.65 94.69 L488.81 95.84 L490 97.1 L491.01 98.23 L492.05 99.43 L493.1 100.68 L494.17 101.98 L495.25 103.29 L496.33 104.62 L497.42 105.94 L498.51 107.24 L499.6 108.5 L500.67 109.73 L501.74 110.98 L502.81 112.22 L503.89 113.46 L504.97 114.69 L506.06 115.9 L507.16 117.07 L508.27 118.21 L509.4 119.3 L510.6 120.39 L511.82 121.44 L513.05 122.45 L514.29 123.43 L515.54 124.38 L516.79 125.33 L518.05 126.26 L519.3 127.2 L520.52 128.12 L521.73 129.02 L522.95 129.91 L524.17 130.8 L525.4 131.67 L526.64 132.53 L527.91 133.37 L529.2 134.2 L530.58 135.04 L531.99 135.86 L533.42 136.67 L534.87 137.46 L536.33 138.24 L537.8 139.02 L539.25 139.81 L540.7 140.6" fill="none" stroke="#ff00ff" stroke-width="1.3" stroke-linejoin="round"/><path d="M317.6 8.6 V175.1 H540.8" fill="none" stroke="#555" stroke-width="1"/><path d="M317.6 175.1 v2.6 M392 175.1 v2.6 M466.4 175.1 v2.6 M540.8 175.1 v2.6 M354.8 175.1 v1.6 M429.2 175.1 v1.6 M503.6 175.1 v1.6 M317.6 175.1 h-2.6 M317.6 119.6 h-2.6 M317.6 64.1 h-2.6 M317.6 8.6 h-2.6 M317.6 147.35 h-1.6 M317.6 91.85 h-1.6 M317.6 36.35 h-1.6" fill="none" stroke="#555" stroke-width="1"/><text x="317.6" y="187.8" text-anchor="middle">0</text><text x="392" y="187.8" text-anchor="middle">4</text><text x="466.4" y="187.8" text-anchor="middle">8</text><text x="540.8" y="187.8" text-anchor="middle">12</text><text x="312.4" y="178.7" text-anchor="end">0</text><text x="312.4" y="123.2" text-anchor="end">5</text><text x="312.4" y="67.7" text-anchor="end">10</text><text x="312.4" y="12.2" text-anchor="end">15</text><text transform="translate(292.2 147.1) rotate(-90)" x="0" y="0" textLength="109.9" lengthAdjust="spacingAndGlyphs">Concentration (10<tspan font-size="7" dy="-4.2">3</tspan><tspan dy="4.2"> ppm)</tspan></text><text x="405.5" y="201.3">time (min)</text><text x="423" y="218.8" text-anchor="middle" class="pl">(b)</text><path d="M463.6 14.5 H486.4" fill="none" stroke="#222" stroke-width="1" stroke-dasharray="5 2.3 0.9 2.3"/><text x="489.6" y="18.5">CO</text><path d="M463.6 27.6 H486.4" fill="none" stroke="#ff3b3b" stroke-width="1.3" stroke-dasharray="4.8 3"/><text x="489.6" y="31.3">CO<tspan font-size="7" dy="2.6">2</tspan></text><path d="M463.6 42.2 H486.4" fill="none" stroke="#3a3aff" stroke-width="1.3" stroke-dasharray="1.6 3.3"/><text x="489.6" y="46.4">O<tspan font-size="7" dy="2.6">2</tspan></text><path d="M463.6 56.7 H486.4" fill="none" stroke="#ff00ff" stroke-width="1.3"/><text x="489.6" y="60.4">CO + CO<tspan font-size="7" dy="2.6">2</tspan></text></g>
<g><path d="M39.9 399.1 L41.39 400.12 L42.9 401.1 L44.39 401.92 L45.9 402.7 L47.38 401.96 L48.8 401 L49.85 399.66 L50.8 397.98 L51.8 396.1 L52.45 394.85 L53.11 393.46 L53.79 391.98 L54.49 390.46 L55.23 388.96 L55.99 387.52 L56.8 386.2 L57.68 384.89 L58.58 383.61 L59.52 382.39 L60.51 381.24 L61.57 380.2 L62.7 379.3 L64.14 378.47 L65.7 377.84 L67.33 377.32 L68.98 376.84 L70.6 376.3 L72.15 375.7 L73.67 375.09 L75.21 374.5 L76.8 373.93 L78.5 373.4 L79.85 373.03 L81.27 372.68 L82.73 372.34 L84.22 372.01 L85.75 371.72 L87.29 371.45 L88.85 371.21 L90.4 371 L91.9 370.85 L93.43 370.74 L95 370.67 L96.58 370.63 L98.16 370.6 L99.73 370.57 L101.27 370.54 L102.76 370.48 L104.2 370.4 L105.94 370.26 L107.61 370.09 L109.22 369.91 L110.83 369.73 L112.44 369.56 L114.1 369.4 L115.61 369.26 L117.13 369.11 L118.65 368.97 L120.18 368.83 L121.75 368.72 L123.35 368.64 L125 368.6 L126.56 368.61 L128.19 368.66 L129.88 368.74 L131.58 368.85 L133.3 368.97 L135 369.09 L136.67 369.21 L138.27 369.32 L139.8 369.4 L141.57 369.47 L143.25 369.5 L144.88 369.53 L146.48 369.58 L148.08 369.66 L149.7 369.8 L151.35 370.01 L153.01 370.28 L154.66 370.58 L156.31 370.9 L157.95 371.21 L159.6 371.5 L161.19 371.77 L162.74 372.06 L164.28 372.33 L165.88 372.59 L167.57 372.82 L169.4 373 L170.71 373.09 L172.13 373.15 L173.63 373.18 L175.2 373.2 L176.82 373.21 L178.46 373.2 L180.12 373.19 L181.76 373.17 L183.38 373.16 L184.95 373.15 L186.46 373.15 L187.88 373.17 L189.2 373.2 L191.08 373.27 L192.86 373.33 L194.54 373.41 L196.13 373.5 L197.65 373.63 L199.1 373.8 L200.99 374.16 L202.7 374.6 L204.8 375 L205.93 375.14 L207.18 375.28 L208.55 375.4 L210.01 375.52 L211.54 375.62 L213.14 375.73 L214.77 375.83 L216.44 375.92 L218.12 376.02 L219.79 376.11 L221.44 376.21 L223.05 376.3 L224.6 376.4 L226.12 376.49 L227.66 376.58 L229.19 376.65 L230.74 376.72 L232.28 376.79 L233.82 376.86 L235.36 376.93 L236.89 377.01 L238.4 377.1 L239.91 377.2 L241.39 377.31 L242.86 377.45 L244.3 377.6 L245.96 377.81 L247.6 378.04 L249.2 378.3 L250.79 378.57 L252.36 378.85 L253.93 379.15 L255.49 379.44 L257.05 379.74 L258.62 380.02 L260.2 380.3" fill="none" stroke="#3a3aff" stroke-width="1.3" stroke-dasharray="1.4 1.9" stroke-linejoin="round"/><path d="M39.7 404.5 L39.9 394.1 L41 396 L41.62 397.48 L42.26 399.24 L42.9 401 L42.99 399.47 L43.08 397.93 L43.17 396.38 L43.26 394.83 L43.35 393.27 L43.44 391.71 L43.53 390.15 L43.61 388.59 L43.7 387.03 L43.79 385.47 L43.88 383.92 L43.97 382.37 L44.06 380.82 L44.15 379.29 L44.24 377.76 L44.33 376.24 L44.42 374.73 L44.52 373.23 L44.61 371.75 L44.71 370.28 L44.8 368.83 L44.9 367.4 L45.01 365.79 L45.11 364.19 L45.22 362.6 L45.32 361.01 L45.42 359.44 L45.52 357.88 L45.63 356.33 L45.73 354.79 L45.84 353.27 L45.95 351.76 L46.07 350.27 L46.19 348.8 L46.31 347.34 L46.45 345.9 L46.59 344.48 L46.74 343.08 L46.9 341.7 L47.12 339.93 L47.35 338.15 L47.59 336.37 L47.85 334.61 L48.11 332.89 L48.38 331.21 L48.66 329.59 L48.94 328.05 L49.22 326.59 L49.51 325.24 L49.8 324 L50.25 322.22 L50.69 320.69 L51.19 319.3 L51.8 318 L52.68 316.57 L53.69 315.29 L54.8 314.1 L55.94 312.98 L57.18 311.96 L58.7 311.1 L60.06 310.59 L61.62 310.15 L63.33 309.79 L65.11 309.51 L66.89 309.32 L68.6 309.2 L70.24 309.19 L71.86 309.29 L73.49 309.48 L75.13 309.71 L76.8 309.96 L78.5 310.2 L79.93 310.39 L81.38 310.6 L82.85 310.81 L84.33 311.05 L85.83 311.29 L87.34 311.55 L88.87 311.82 L90.4 312.1 L91.89 312.38 L93.39 312.68 L94.9 312.99 L96.42 313.31 L97.96 313.64 L99.5 313.99 L101.06 314.34 L102.63 314.72 L104.2 315.1 L105.73 315.49 L107.27 315.9 L108.81 316.33 L110.36 316.77 L111.93 317.21 L113.5 317.67 L115.1 318.13 L116.71 318.59 L118.34 319.05 L120 319.5 L121.45 319.89 L122.92 320.27 L124.41 320.66 L125.93 321.05 L127.45 321.43 L128.99 321.82 L130.53 322.22 L132.08 322.61 L133.64 323 L135.19 323.4 L136.73 323.8 L138.27 324.2 L139.8 324.6 L141.32 325.01 L142.85 325.43 L144.37 325.85 L145.89 326.28 L147.41 326.72 L148.93 327.15 L150.46 327.58 L151.98 328.01 L153.5 328.43 L155.02 328.84 L156.55 329.24 L158.07 329.63 L159.6 330 L161.14 330.36 L162.74 330.71 L164.38 331.06 L166.04 331.4 L167.71 331.74 L169.36 332.07 L170.99 332.38 L172.58 332.69 L174.11 332.98 L175.56 333.26 L176.92 333.52 L178.17 333.77 L179.3 334 L181.36 334.43 L183.04 334.79 L185 335.2 L186.33 335.46 L187.83 335.73 L189.47 336.03 L191.19 336.34 L192.93 336.65 L194.64 336.97 L196.27 337.29 L197.78 337.6 L199.1 337.9 L201.2 338.49 L203.01 339.07 L204.8 339.6 L206.45 340.01 L208.08 340.38 L210 340.8 L211.29 341.08 L212.71 341.38 L214.24 341.7 L215.86 342.04 L217.56 342.39 L219.3 342.76 L221.07 343.13 L222.84 343.51 L224.6 343.9 L226.02 344.22 L227.48 344.55 L228.96 344.89 L230.46 345.24 L231.99 345.59 L233.52 345.95 L235.07 346.32 L236.63 346.68 L238.18 347.05 L239.73 347.42 L241.27 347.78 L242.79 348.14 L244.3 348.5 L245.88 348.87 L247.46 349.25 L249.03 349.62 L250.6 350 L252.17 350.37 L253.73 350.75 L255.29 351.12 L256.85 351.5 L258.41 351.87 L259.97 352.25 L261.53 352.62 L263.1 353" fill="none" stroke="#222" stroke-width="1.05" stroke-dasharray="4.2 1.6 0.8 1.6" stroke-linejoin="round"/><path d="M44.5 353.6 L44.59 355.14 L44.67 356.69 L44.75 358.24 L44.83 359.79 L44.91 361.34 L45 362.88 L45.09 364.4 L45.19 365.91 L45.3 367.4 L45.42 369.21 L45.52 371.06 L45.62 372.92 L45.75 374.72 L45.92 376.42 L46.16 377.96 L46.5 379.3 L47.18 380.83 L47.99 382.06 L48.8 383.3 L50.13 382.39 L51.46 381.49 L52.8 380.3 L53.62 379.29 L54.42 378.08 L55.21 376.73 L56.01 375.32 L56.85 373.92 L57.74 372.59 L58.7 371.4 L59.88 370.17 L61.14 368.99 L62.46 367.88 L63.82 366.85 L65.21 365.91 L66.6 365.1 L68.14 364.37 L69.7 363.78 L71.29 363.31 L72.92 362.89 L74.6 362.5 L76.18 362.17 L77.82 361.9 L79.49 361.66 L81.16 361.45 L82.81 361.27 L84.4 361.1 L86.02 360.92 L87.58 360.77 L89.13 360.64 L90.71 360.55 L92.4 360.5 L93.97 360.51 L95.63 360.56 L97.35 360.64 L99.1 360.75 L100.84 360.87 L102.55 360.99 L104.2 361.1 L105.93 361.22 L107.66 361.35 L109.36 361.49 L111.02 361.63 L112.61 361.77 L114.1 361.9 L116.12 362.09 L117.98 362.27 L120 362.5 L121.5 362.68 L123.12 362.87 L124.8 363.08 L126.51 363.32 L128.23 363.59 L129.9 363.9 L131.56 364.27 L133.21 364.68 L134.86 365.13 L136.5 365.6 L138.15 366.06 L139.8 366.5 L141.45 366.92 L143.1 367.33 L144.75 367.74 L146.4 368.15 L148.05 368.57 L149.7 369 L151.35 369.46 L153 369.94 L154.65 370.43 L156.3 370.91 L157.95 371.37 L159.6 371.8 L161.23 372.17 L162.86 372.5 L164.5 372.81 L166.13 373.12 L167.77 373.44 L169.4 373.8 L171.05 374.21 L172.7 374.65 L174.35 375.11 L175.99 375.56 L177.65 376 L179.3 376.4 L180.95 376.75 L182.6 377.07 L184.25 377.37 L185.9 377.67 L187.55 377.97 L189.2 378.3 L190.85 378.64 L192.49 378.98 L194.13 379.33 L195.77 379.7 L197.43 380.08 L199.1 380.5 L200.62 380.91 L202.13 381.35 L203.65 381.82 L205.19 382.29 L206.75 382.77 L208.35 383.24 L210 383.7 L211.38 384.07 L212.82 384.45 L214.31 384.83 L215.81 385.21 L217.34 385.59 L218.85 385.96 L220.36 386.31 L221.82 386.64 L223.24 386.94 L224.6 387.2 L226.34 387.5 L228 387.75 L229.61 387.96 L231.2 388.15 L232.78 388.32 L234.4 388.5 L236.05 388.66 L237.7 388.78 L239.35 388.9 L241 389.02 L242.65 389.18 L244.3 389.4 L245.97 389.71 L247.65 390.09 L249.32 390.5 L250.98 390.92 L252.61 391.3 L254.2 391.6 L255.83 391.83 L257.42 392 L258.98 392.13 L260.53 392.26 L262.1 392.4" fill="none" stroke="#ff3b3b" stroke-width="1.3" stroke-dasharray="3.5 2.7" stroke-linejoin="round"/><path d="M42 238.4 L42.02 239.94 L42.04 241.48 L42.05 243.03 L42.07 244.57 L42.09 246.12 L42.1 247.66 L42.12 249.21 L42.13 250.75 L42.15 252.3 L42.16 253.84 L42.18 255.39 L42.19 256.93 L42.21 258.48 L42.23 260.02 L42.24 261.57 L42.26 263.11 L42.28 264.65 L42.29 266.19 L42.31 267.73 L42.33 269.27 L42.35 270.81 L42.38 272.35 L42.4 273.88 L42.42 275.41 L42.45 276.94 L42.47 278.47 L42.5 280 L42.53 281.55 L42.56 283.11 L42.59 284.67 L42.63 286.23 L42.66 287.79 L42.69 289.36 L42.73 290.92 L42.77 292.48 L42.81 294.04 L42.84 295.6 L42.88 297.16 L42.92 298.71 L42.96 300.27 L43 301.82 L43.04 303.36 L43.09 304.91 L43.13 306.44 L43.17 307.98 L43.21 309.5 L43.25 311.02 L43.29 312.54 L43.34 314.05 L43.38 315.55 L43.42 317.04 L43.46 318.52 L43.5 320 L43.54 321.59 L43.59 323.16 L43.63 324.73 L43.68 326.29 L43.72 327.84 L43.77 329.37 L43.81 330.91 L43.86 332.43 L43.9 333.95 L43.95 335.47 L44 336.98 L44.04 338.49 L44.09 340 L44.13 341.51 L44.18 343.01 L44.23 344.52 L44.27 346.02 L44.32 347.53 L44.36 349.04 L44.41 350.56 L44.45 352.08 L44.5 353.6 L44.58 352.05 L44.66 350.49 L44.74 348.93 L44.81 347.37 L44.89 345.81 L44.96 344.25 L45.04 342.69 L45.12 341.14 L45.21 339.59 L45.3 338.05 L45.4 336.52 L45.5 335 L45.62 333.42 L45.74 331.83 L45.86 330.24 L46 328.66 L46.13 327.09 L46.27 325.53 L46.42 323.98 L46.56 322.45 L46.71 320.94 L46.85 319.46 L47 318 L47.17 316.28 L47.34 314.59 L47.5 312.94 L47.67 311.31 L47.85 309.7 L48.05 308.11 L48.26 306.55 L48.5 305 L48.77 303.41 L49.05 301.87 L49.35 300.35 L49.67 298.85 L50.01 297.35 L50.39 295.84 L50.8 294.3 L51.22 292.82 L51.67 291.3 L52.14 289.75 L52.64 288.21 L53.16 286.69 L53.7 285.22 L54.24 283.81 L54.8 282.5 L55.51 280.93 L56.21 279.46 L56.96 278.07 L57.78 276.76 L58.7 275.5 L59.76 274.29 L60.92 273.14 L62.16 272.06 L63.43 271.07 L64.7 270.2 L66.13 269.36 L67.6 268.65 L69.1 268.06 L70.6 267.6 L72.49 267.23 L74.41 267.06 L76.5 267 L78.02 267 L79.65 267.05 L81.36 267.14 L83.09 267.27 L84.79 267.42 L86.4 267.6 L88.03 267.81 L89.59 268.06 L91.13 268.34 L92.68 268.65 L94.3 269 L95.89 269.37 L97.53 269.77 L99.19 270.21 L100.87 270.66 L102.54 271.13 L104.2 271.6 L105.89 272.07 L107.61 272.54 L109.33 273.02 L111.01 273.51 L112.61 274.04 L114.1 274.6 L115.66 275.35 L117.05 276.15 L118.44 276.95 L120 277.7 L121.49 278.24 L123.1 278.71 L124.79 279.15 L126.52 279.61 L128.24 280.11 L129.9 280.7 L131.33 281.3 L132.76 281.94 L134.18 282.63 L135.59 283.34 L137 284.08 L138.4 284.84 L139.8 285.6 L141.23 286.39 L142.64 287.22 L144.06 288.06 L145.47 288.92 L146.88 289.78 L148.29 290.64 L149.7 291.5 L151.11 292.37 L152.52 293.25 L153.93 294.15 L155.34 295.03 L156.75 295.9 L158.17 296.72 L159.6 297.5 L160.99 298.19 L162.38 298.83 L163.78 299.43 L165.19 300.01 L166.59 300.59 L168 301.19 L169.4 301.8 L170.81 302.45 L172.22 303.11 L173.64 303.79 L175.05 304.46 L176.46 305.13 L177.88 305.77 L179.3 306.4 L180.71 306.99 L182.12 307.56 L183.54 308.11 L184.95 308.66 L186.37 309.2 L187.79 309.74 L189.2 310.3 L190.62 310.86 L192.03 311.43 L193.45 312 L194.86 312.57 L196.27 313.14 L197.69 313.72 L199.1 314.3 L200.54 314.89 L202.02 315.47 L203.5 316.06 L204.97 316.65 L206.39 317.26 L207.75 317.87 L209 318.5 L210.52 319.41 L211.85 320.34 L213.19 321.28 L214.7 322.2 L215.96 322.86 L217.31 323.51 L218.73 324.17 L220.2 324.81 L221.68 325.45 L223.16 326.08 L224.6 326.7 L226 327.3 L227.39 327.89 L228.79 328.48 L230.19 329.06 L231.59 329.62 L232.99 330.17 L234.4 330.7 L236.04 331.29 L237.69 331.85 L239.34 332.4 L240.99 332.93 L242.65 333.46 L244.3 334 L245.96 334.54 L247.62 335.08 L249.28 335.61 L250.94 336.14 L252.58 336.67 L254.2 337.2 L255.71 337.7 L257.2 338.2 L258.68 338.7 L260.15 339.2 L261.62 339.7 L263.1 340.2" fill="none" stroke="#ff00ff" stroke-width="1.3" stroke-linejoin="round"/><path d="M39.5 238.4 V404.8 H263.4" fill="none" stroke="#555" stroke-width="1"/><path d="M39.5 404.8 v2.6 M103.47 404.8 v2.6 M167.44 404.8 v2.6 M231.41 404.8 v2.6 M71.49 404.8 v1.6 M135.46 404.8 v1.6 M199.43 404.8 v1.6 M263.4 404.8 v1.6 M39.5 404.8 h-2.6 M39.5 371.52 h-2.6 M39.5 338.24 h-2.6 M39.5 304.96 h-2.6 M39.5 271.68 h-2.6 M39.5 238.4 h-2.6 M39.5 388.16 h-1.6 M39.5 354.88 h-1.6 M39.5 321.6 h-1.6 M39.5 288.32 h-1.6 M39.5 255.04 h-1.6" fill="none" stroke="#555" stroke-width="1"/><text x="39.5" y="417.5" text-anchor="middle">0</text><text x="103.47" y="417.5" text-anchor="middle">4</text><text x="167.44" y="417.5" text-anchor="middle">8</text><text x="231.41" y="417.5" text-anchor="middle">12</text><text x="34.3" y="408.4" text-anchor="end">0</text><text x="34.3" y="375.12" text-anchor="end">1</text><text x="34.3" y="341.84" text-anchor="end">2</text><text x="34.3" y="308.56" text-anchor="end">3</text><text x="34.3" y="275.28" text-anchor="end">4</text><text x="34.3" y="242" text-anchor="end">5</text><text transform="translate(16.7 376.8) rotate(-90)" x="0" y="0" textLength="109.9" lengthAdjust="spacingAndGlyphs">Concentration (10<tspan font-size="7" dy="-4.2">3</tspan><tspan dy="4.2"> ppm)</tspan></text><text x="126.8" y="430.1">time (min)</text><text x="161.4" y="448.4" text-anchor="middle" class="pl">(c)</text><path d="M177.3 248.3 H200.5" fill="none" stroke="#222" stroke-width="1" stroke-dasharray="5 2.3 0.9 2.3"/><text x="203.3" y="252.3">CO</text><path d="M177.3 261 H200.5" fill="none" stroke="#ff3b3b" stroke-width="1.3" stroke-dasharray="4.8 3"/><text x="203.3" y="264.5">CO<tspan font-size="7" dy="2.6">2</tspan></text><path d="M177.3 275.4 H200.5" fill="none" stroke="#3a3aff" stroke-width="1.3" stroke-dasharray="1.6 3.3"/><text x="203.3" y="279.5">O<tspan font-size="7" dy="2.6">2</tspan></text><path d="M177.3 289.9 H200.5" fill="none" stroke="#ff00ff" stroke-width="1.3"/><text x="203.3" y="294.1">CO + CO<tspan font-size="7" dy="2.6">2</tspan></text></g>
<g><path d="M318 399.1 L319.41 400.13 L320.9 401.1 L322.84 402.08 L324.9 402.7 L326.85 402.53 L328.8 402.1 L329.78 400.49 L330.75 398.88 L331.8 397.1 L332.53 395.74 L333.29 394.23 L334.07 392.66 L334.9 391.08 L335.77 389.57 L336.7 388.2 L337.76 386.85 L338.87 385.58 L340.04 384.4 L341.31 383.31 L342.7 382.3 L343.94 381.58 L345.29 380.95 L346.71 380.39 L348.19 379.86 L349.68 379.36 L351.16 378.84 L352.6 378.3 L354.02 377.73 L355.47 377.14 L356.92 376.55 L358.36 375.96 L359.77 375.4 L361.12 374.88 L362.4 374.4 L363.96 373.82 L365.38 373.3 L366.82 372.82 L368.4 372.4 L369.88 372.09 L371.44 371.84 L373.08 371.62 L374.78 371.42 L376.52 371.22 L378.3 371 L379.74 370.81 L381.24 370.62 L382.79 370.42 L384.36 370.22 L385.95 370.02 L387.53 369.84 L389.1 369.67 L390.62 369.52 L392.1 369.4 L393.7 369.3 L395.24 369.23 L396.74 369.18 L398.23 369.15 L399.75 369.11 L401.33 369.07 L403 369 L404.41 368.93 L405.89 368.84 L407.44 368.75 L409.03 368.65 L410.64 368.55 L412.26 368.45 L413.86 368.35 L415.44 368.25 L416.97 368.16 L418.42 368.07 L419.8 368 L421.56 367.9 L423.17 367.8 L424.7 367.7 L426.25 367.63 L427.89 367.59 L429.7 367.6 L431 367.64 L432.38 367.71 L433.83 367.8 L435.34 367.91 L436.89 368.04 L438.47 368.18 L440.06 368.33 L441.67 368.48 L443.27 368.64 L444.86 368.79 L446.42 368.94 L447.94 369.08 L449.4 369.2 L451.13 369.33 L452.93 369.47 L454.77 369.6 L456.61 369.72 L458.41 369.85 L460.12 369.98 L461.7 370.1 L463.12 370.23 L464.33 370.37 L465.3 370.5 L467.3 371 L467.8 402.2 L540.7 402.5" fill="none" stroke="#3a3aff" stroke-width="1.3" stroke-dasharray="1.4 1.9" stroke-linejoin="round"/><path d="M317.8 404.8 L318 386.2 L318.11 387.8 L318.19 389.44 L318.27 391.1 L318.35 392.74 L318.48 394.31 L318.65 395.78 L318.9 397.1 L319.48 398.93 L320.19 400.51 L320.9 402.1 L320.95 400.55 L321.01 398.98 L321.06 397.39 L321.11 395.78 L321.16 394.15 L321.22 392.51 L321.27 390.86 L321.32 389.21 L321.37 387.54 L321.42 385.88 L321.47 384.22 L321.52 382.56 L321.57 380.91 L321.62 379.26 L321.67 377.63 L321.72 376.02 L321.77 374.42 L321.83 372.84 L321.88 371.28 L321.94 369.75 L321.99 368.25 L322.05 366.78 L322.11 365.35 L322.17 363.95 L322.23 362.59 L322.3 361.27 L322.36 360 L322.43 358.77 L322.5 357.6 L322.62 355.67 L322.73 353.86 L322.83 352.16 L322.94 350.54 L323.05 348.99 L323.18 347.49 L323.32 346.03 L323.48 344.59 L323.68 343.15 L323.9 341.7 L324.17 340.1 L324.45 338.51 L324.76 336.93 L325.09 335.4 L325.45 333.91 L325.86 332.49 L326.3 331.14 L326.8 329.9 L327.62 328.15 L328.51 326.56 L329.55 325.15 L330.8 323.9 L332.14 322.96 L333.68 322.17 L335.34 321.5 L337.04 320.92 L338.7 320.4 L340.25 319.96 L341.79 319.6 L343.36 319.31 L344.96 319.11 L346.6 319 L348.16 319.01 L349.73 319.12 L351.33 319.32 L352.99 319.55 L354.7 319.79 L356.5 320 L357.92 320.14 L359.4 320.29 L360.91 320.45 L362.47 320.61 L364.06 320.77 L365.67 320.94 L367.31 321.1 L368.97 321.27 L370.63 321.43 L372.3 321.6 L373.77 321.74 L375.31 321.89 L376.9 322.04 L378.52 322.19 L380.16 322.34 L381.8 322.49 L383.43 322.64 L385.04 322.79 L386.6 322.94 L388.1 323.09 L389.52 323.23 L390.86 323.37 L392.1 323.5 L393.85 323.7 L395.35 323.88 L396.76 324.06 L398.25 324.26 L400 324.5 L401.23 324.67 L402.55 324.87 L403.96 325.08 L405.43 325.3 L406.97 325.53 L408.54 325.77 L410.15 326.02 L411.78 326.27 L413.41 326.53 L415.05 326.78 L416.66 327.03 L418.25 327.27 L419.8 327.5 L421.32 327.72 L422.85 327.94 L424.37 328.15 L425.9 328.36 L427.42 328.57 L428.95 328.78 L430.47 328.99 L431.99 329.21 L433.52 329.43 L435.04 329.66 L436.56 329.89 L438.08 330.14 L439.6 330.4 L441.15 330.67 L442.74 330.96 L444.36 331.27 L446 331.58 L447.65 331.9 L449.28 332.22 L450.89 332.55 L452.46 332.87 L453.99 333.2 L455.44 333.51 L456.83 333.82 L458.12 334.12 L459.3 334.4 L461.31 334.92 L463.03 335.42 L464.64 335.91 L466.3 336.4 L466.51 338 L466.72 339.47 L466.93 341.01 L467.13 342.79 L467.3 345 L467.35 345.87 L467.4 346.82 L467.44 347.82 L467.48 348.89 L467.51 350.02 L467.55 351.2 L467.57 352.44 L467.6 353.73 L467.62 355.06 L467.64 356.44 L467.66 357.87 L467.68 359.33 L467.69 360.83 L467.7 362.36 L467.71 363.93 L467.72 365.52 L467.73 367.14 L467.73 368.78 L467.74 370.44 L467.74 372.12 L467.74 373.82 L467.74 375.52 L467.74 377.24 L467.74 378.96 L467.74 380.69 L467.74 382.41 L467.74 384.14 L467.74 385.86 L467.75 387.57 L467.75 389.27 L467.75 390.96 L467.75 392.64 L467.76 394.29 L467.76 395.93 L467.77 397.54 L467.78 399.12 L467.79 400.68 L467.8 402.2 L470 403.6 L470.49 403.73 L471.07 403.84 L471.73 403.95 L472.48 404.04 L473.3 404.13 L474.2 404.2 L475.17 404.27 L476.21 404.33 L477.32 404.38 L478.49 404.43 L479.72 404.46 L481.01 404.49 L482.36 404.52 L483.76 404.53 L485.21 404.54 L486.71 404.55 L488.25 404.55 L489.83 404.54 L491.45 404.53 L493.11 404.52 L494.79 404.5 L496.51 404.48 L498.26 404.46 L500.02 404.43 L501.81 404.4 L503.62 404.37 L505.44 404.33 L507.28 404.3 L509.13 404.26 L510.98 404.22 L512.83 404.19 L514.69 404.15 L516.54 404.11 L518.39 404.07 L520.24 404.04 L522.07 404 L523.89 403.97 L525.69 403.94 L527.47 403.91 L529.23 403.88 L530.97 403.86 L532.68 403.84 L534.35 403.82 L536 403.81 L537.61 403.8 L539.17 403.8 L540.7 403.8" fill="none" stroke="#222" stroke-width="1.05" stroke-dasharray="4.2 1.6 0.8 1.6" stroke-linejoin="round"/><path d="M322.5 351.6 L322.52 353.18 L322.53 354.81 L322.54 356.47 L322.53 358.15 L322.53 359.83 L322.53 361.52 L322.53 363.18 L322.53 364.82 L322.55 366.42 L322.58 367.97 L322.63 369.45 L322.7 370.86 L322.79 372.18 L322.9 373.4 L323.13 375.29 L323.39 377 L323.69 378.56 L324.06 379.98 L324.5 381.3 L325.2 382.73 L326 383.96 L326.8 385.2 L328.28 384.48 L329.74 383.76 L331.24 383.03 L332.8 382.3 L334.29 381.6 L335.82 380.86 L337.4 380.13 L339.02 379.46 L340.7 378.9 L342.26 378.49 L343.86 378.14 L345.5 377.85 L347.18 377.61 L348.88 377.43 L350.6 377.3 L352.24 377.25 L353.92 377.28 L355.63 377.36 L357.36 377.47 L359.07 377.58 L360.76 377.67 L362.4 377.7 L364.1 377.66 L365.77 377.57 L367.41 377.46 L369.03 377.36 L370.66 377.29 L372.3 377.3 L373.95 377.39 L375.6 377.53 L377.25 377.71 L378.9 377.91 L380.55 378.12 L382.2 378.3 L383.86 378.46 L385.54 378.62 L387.22 378.78 L388.88 378.95 L390.52 379.12 L392.1 379.3 L393.72 379.52 L395.28 379.75 L396.82 379.99 L398.38 380.21 L400 380.4 L401.58 380.53 L403.22 380.62 L404.88 380.69 L406.56 380.77 L408.24 380.86 L409.9 381 L411.55 381.19 L413.2 381.41 L414.85 381.65 L416.5 381.9 L418.15 382.16 L419.8 382.4 L421.45 382.64 L423.1 382.87 L424.75 383.11 L426.4 383.35 L428.05 383.58 L429.7 383.8 L431.35 384.01 L433 384.21 L434.65 384.4 L436.3 384.59 L437.95 384.79 L439.6 385 L441.24 385.23 L442.87 385.48 L444.5 385.74 L446.13 385.99 L447.76 386.21 L449.4 386.4 L451.07 386.57 L452.79 386.75 L454.5 386.9 L456.18 387.01 L457.8 387.05 L459.3 387 L460.91 386.8 L462.4 386.49 L463.84 386.13 L465.3 385.8 L467.2 387 L467.4 347.8 L469.2 350 L470.06 351.2 L471 352.61 L472.05 354.09 L473.2 355.5 L474.34 356.74 L475.57 358 L476.88 359.22 L478.29 360.34 L479.8 361.3 L481.28 362.01 L482.88 362.59 L484.56 363.08 L486.28 363.5 L488.01 363.86 L489.7 364.2 L491.3 364.48 L492.86 364.69 L494.43 364.85 L496.04 364.98 L497.75 365.12 L499.6 365.3 L500.89 365.43 L502.25 365.58 L503.67 365.73 L505.14 365.88 L506.65 366.03 L508.19 366.19 L509.77 366.35 L511.36 366.5 L512.96 366.66 L514.56 366.8 L516.16 366.94 L517.74 367.08 L519.3 367.2 L520.8 367.31 L522.31 367.41 L523.83 367.51 L525.35 367.6 L526.88 367.69 L528.41 367.77 L529.94 367.85 L531.48 367.93 L533.02 368 L534.56 368.08 L536.1 368.16 L537.63 368.24 L539.17 368.32 L540.7 368.4" fill="none" stroke="#ff3b3b" stroke-width="1.3" stroke-dasharray="3.5 2.7" stroke-linejoin="round"/><path d="M320.3 238.4 L320.33 239.94 L320.35 241.48 L320.38 243.03 L320.4 244.57 L320.43 246.12 L320.45 247.66 L320.48 249.21 L320.5 250.75 L320.53 252.3 L320.55 253.84 L320.58 255.39 L320.6 256.93 L320.63 258.48 L320.66 260.02 L320.68 261.57 L320.71 263.11 L320.73 264.65 L320.76 266.19 L320.78 267.73 L320.81 269.27 L320.84 270.81 L320.86 272.35 L320.89 273.88 L320.92 275.41 L320.94 276.94 L320.97 278.47 L321 280 L321.03 281.56 L321.06 283.12 L321.09 284.69 L321.12 286.27 L321.15 287.85 L321.18 289.43 L321.21 291.02 L321.24 292.61 L321.27 294.19 L321.3 295.78 L321.33 297.36 L321.36 298.93 L321.39 300.51 L321.42 302.07 L321.45 303.63 L321.48 305.18 L321.52 306.73 L321.55 308.26 L321.58 309.78 L321.61 311.29 L321.64 312.78 L321.67 314.26 L321.71 315.72 L321.74 317.17 L321.77 318.59 L321.8 320 L321.84 321.66 L321.88 323.3 L321.91 324.91 L321.95 326.5 L321.99 328.06 L322.03 329.61 L322.07 331.14 L322.11 332.66 L322.15 334.17 L322.19 335.67 L322.23 337.16 L322.27 338.65 L322.3 340.15 L322.34 341.64 L322.38 343.14 L322.42 344.65 L322.46 346.17 L322.5 347.7 L322.65 346.18 L322.8 344.63 L322.95 343.08 L323.09 341.52 L323.23 339.96 L323.38 338.41 L323.52 336.86 L323.67 335.32 L323.83 333.8 L323.98 332.31 L324.15 330.84 L324.32 329.4 L324.5 328 L324.72 326.33 L324.95 324.7 L325.18 323.09 L325.41 321.51 L325.66 319.97 L325.92 318.45 L326.19 316.97 L326.48 315.52 L326.8 314.1 L327.24 312.31 L327.7 310.56 L328.19 308.86 L328.7 307.22 L329.24 305.67 L329.8 304.2 L330.47 302.54 L331.16 300.98 L331.92 299.55 L332.8 298.3 L333.96 297.11 L335.26 296.14 L336.7 295.3 L338.06 294.68 L339.54 294.16 L341.09 293.71 L342.7 293.3 L344.2 292.94 L345.77 292.61 L347.38 292.32 L349 292.11 L350.6 292 L352.16 292.02 L353.72 292.16 L355.27 292.37 L356.86 292.6 L358.5 292.8 L360.09 292.97 L361.72 293.14 L363.38 293.32 L365.06 293.5 L366.74 293.7 L368.4 293.9 L370.05 294.11 L371.7 294.32 L373.35 294.54 L375 294.78 L376.65 295.03 L378.3 295.3 L379.97 295.6 L381.64 295.94 L383.32 296.29 L384.98 296.64 L386.61 296.99 L388.2 297.3 L389.88 297.59 L391.56 297.83 L393.19 298.08 L394.72 298.36 L396.1 298.7 L398.02 299.52 L400 300.4 L401.38 300.8 L402.95 301.19 L404.66 301.56 L406.43 301.93 L408.2 302.3 L409.9 302.7 L411.55 303.11 L413.2 303.54 L414.85 303.97 L416.5 304.41 L418.15 304.85 L419.8 305.3 L421.45 305.75 L423.1 306.21 L424.75 306.67 L426.4 307.14 L428.05 307.61 L429.7 308.1 L431.35 308.6 L433 309.12 L434.65 309.65 L436.3 310.18 L437.95 310.7 L439.6 311.2 L441.23 311.68 L442.86 312.16 L444.5 312.63 L446.13 313.09 L447.76 313.55 L449.4 314 L451.07 314.45 L452.79 314.88 L454.5 315.32 L456.19 315.75 L457.8 316.17 L459.3 316.6 L461 317.05 L462.64 317.46 L464.11 317.95 L465.3 318.6 L466.45 319.76 L467.2 321.5 L467.41 322.44 L467.55 323.64 L467.64 325.05 L467.67 326.64 L467.67 328.37 L467.64 330.2 L467.59 332.1 L467.52 334.03 L467.46 335.96 L467.4 337.84 L467.37 339.64 L467.36 341.32 L467.39 342.85 L467.47 344.19 L467.6 345.3 L468.01 347.22 L468.51 348.7 L469.2 350.2 L470 351.69 L470.95 353.21 L472.03 354.7 L473.2 356.1 L474.26 357.2 L475.41 358.27 L476.62 359.29 L477.86 360.24 L479.1 361.1 L480.55 362 L482.04 362.8 L483.53 363.5 L485 364.1 L486.62 364.65 L488.21 365.05 L490 365.4 L491.41 365.6 L492.96 365.75 L494.6 365.88 L496.28 365.99 L497.96 366.13 L499.6 366.3 L501.23 366.52 L502.86 366.78 L504.49 367.06 L506.12 367.33 L507.76 367.58 L509.4 367.8 L511.04 367.98 L512.69 368.13 L514.34 368.26 L516 368.37 L517.65 368.49 L519.3 368.6 L520.94 368.71 L522.57 368.82 L524.2 368.93 L525.84 369.02 L527.51 369.12 L529.2 369.2 L530.8 369.27 L532.42 369.33 L534.07 369.39 L535.73 369.44 L537.39 369.49 L539.05 369.55 L540.7 369.6" fill="none" stroke="#ff00ff" stroke-width="1.3" stroke-linejoin="round"/><path d="M317.7 238.4 V404.8 H540.9" fill="none" stroke="#555" stroke-width="1"/><path d="M317.7 404.8 v2.6 M381.47 404.8 v2.6 M445.24 404.8 v2.6 M509.01 404.8 v2.6 M349.59 404.8 v1.6 M413.36 404.8 v1.6 M477.13 404.8 v1.6 M540.9 404.8 v1.6 M317.7 404.8 h-2.6 M317.7 371.52 h-2.6 M317.7 338.24 h-2.6 M317.7 304.96 h-2.6 M317.7 271.68 h-2.6 M317.7 238.4 h-2.6 M317.7 388.16 h-1.6 M317.7 354.88 h-1.6 M317.7 321.6 h-1.6 M317.7 288.32 h-1.6 M317.7 255.04 h-1.6" fill="none" stroke="#555" stroke-width="1"/><text x="317.7" y="417.5" text-anchor="middle">0</text><text x="381.47" y="417.5" text-anchor="middle">4</text><text x="445.24" y="417.5" text-anchor="middle">8</text><text x="509.01" y="417.5" text-anchor="middle">12</text><text x="312.5" y="408.4" text-anchor="end">0</text><text x="312.5" y="375.12" text-anchor="end">1</text><text x="312.5" y="341.84" text-anchor="end">2</text><text x="312.5" y="308.56" text-anchor="end">3</text><text x="312.5" y="275.28" text-anchor="end">4</text><text x="312.5" y="242" text-anchor="end">5</text><text transform="translate(293.4 370.8) rotate(-90)" x="0" y="0" textLength="109.5" lengthAdjust="spacingAndGlyphs">Concentration (10<tspan font-size="7" dy="-4.2">3</tspan><tspan dy="4.2"> ppm)</tspan></text><text x="407.3" y="430.1">time (min)</text><text x="423" y="448.4" text-anchor="middle" class="pl">(d)</text><path d="M459.1 239.3 H482.4" fill="none" stroke="#222" stroke-width="1" stroke-dasharray="5 2.3 0.9 2.3"/><text x="484.9" y="242.9">CO</text><path d="M459.1 251.6 H482.4" fill="none" stroke="#ff3b3b" stroke-width="1.3" stroke-dasharray="4.8 3"/><text x="484.9" y="256.2">CO<tspan font-size="7" dy="2.6">2</tspan></text><path d="M459.1 266.5 H482.4" fill="none" stroke="#3a3aff" stroke-width="1.3" stroke-dasharray="1.6 3.3"/><text x="484.9" y="271.1">O<tspan font-size="7" dy="2.6">2</tspan></text><path d="M459.1 281.1 H482.4" fill="none" stroke="#ff00ff" stroke-width="1.3"/><text x="484.9" y="284.7">CO + CO<tspan font-size="7" dy="2.6">2</tspan></text></g>
</svg>
</body></html>
